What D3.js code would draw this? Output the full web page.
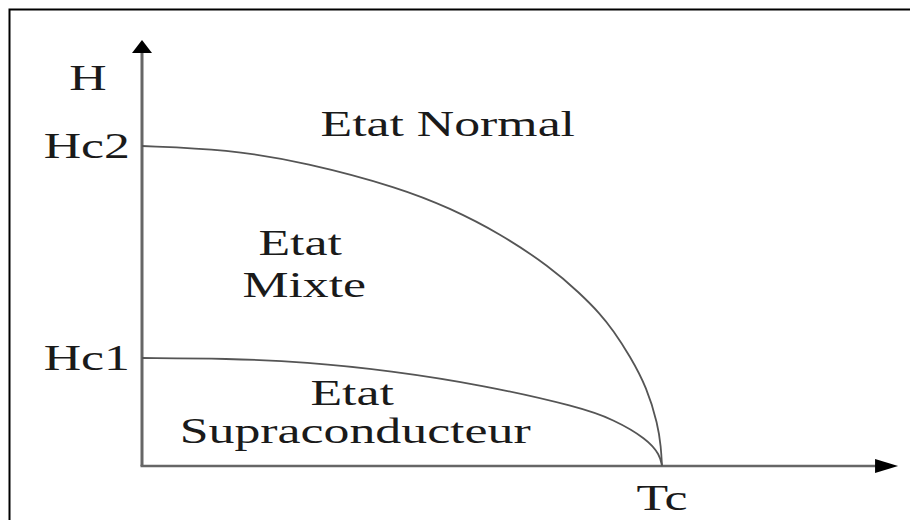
<!DOCTYPE html>
<html>
<head>
<meta charset="utf-8">
<script src="https://cdn.jsdelivr.net/npm/d3@7"></script>
<style>
  body { margin: 0; background: #fff; }
  text { font-family: "Liberation Serif", "Times New Roman", "DejaVu Serif", serif; fill: #1a1a1a; }
</style>
</head>
<body>
<svg id="chart"></svg>
<script>
/////////////////////////////////
// DATA (T in units of Tc, H in units of Hc2)
//////////////////////////////////

var hc2Curve = [
  [0, 1.0], [0.163, 0.99], [0.317, 0.948], [0.496, 0.869], [0.592, 0.806],
  [0.688, 0.727], [0.785, 0.622], [0.842, 0.54], [0.881, 0.476], [0.906, 0.424],
  [0.938, 0.345], [0.971, 0.245], [0.992, 0.13], [0.998, 0.06], [1.0, 0]
];

var hc1Curve = [
  [0, 0.3375], [0.163, 0.336], [0.317, 0.325], [0.477, 0.298], [0.656, 0.253],
  [0.842, 0.184], [0.906, 0.146], [0.971, 0.085], [0.996, 0.035], [1.0, 0]
];

var hTicks = [{ label: "Hc2", value: 1.0 }, { label: "Hc1", value: 0.3375 }];
var tTicks = [{ label: "Tc", value: 1.0 }];
var axisEnds = { t: 1.454, h: 1.331 };

var regionLabels = [
  { text: "H", t: -0.104, h: 1.175 },
  { text: "Etat Normal", t: 0.588, h: 1.031 },
  { text: "Etat", t: 0.304, h: 0.659 },
  { text: "Mixte", t: 0.312, h: 0.528 },
  { text: "Etat", t: 0.404, h: 0.191 },
  { text: "Supraconducteur", t: 0.41, h: 0.072 }
];

/////////////////////////////////
// SETUP
//////////////////////////////////

var width = 910, height = 520;
var stretch = 1.48;   // the original picture is squeezed vertically
var fontSize = 35;

var svg = d3.select("#chart")
  .attr("width", width)
  .attr("height", height);

var x = d3.scaleLinear().domain([0, 1]).range([142, 662]);
var y = d3.scaleLinear().domain([0, 1]).range([466, 146]);

// frame (only top and left edges are in view)
svg.append("rect")
  .attr("x", 9.5).attr("y", 9.5)
  .attr("width", width + 20).attr("height", height + 20)
  .attr("fill", "none")
  .attr("stroke", "#000")
  .attr("stroke-width", 2);

/////////////////////////////////
// AXES
//////////////////////////////////

var axisColor = "#666";

// H axis
svg.append("line")
  .attr("x1", x(0)).attr("y1", y(0))
  .attr("x2", x(0)).attr("y2", y(axisEnds.h) + 12)
  .attr("stroke", axisColor)
  .attr("stroke-width", 3);

svg.append("path")
  .attr("d", d3.line()([
    [x(0), y(axisEnds.h)],
    [x(0) - 10, y(axisEnds.h) + 13],
    [x(0) + 10, y(axisEnds.h) + 13]
  ]) + "Z")
  .attr("fill", "#000");

// T axis
svg.append("line")
  .attr("x1", x(0) - 1.5).attr("y1", y(0))
  .attr("x2", x(axisEnds.t) - 20).attr("y2", y(0))
  .attr("stroke", axisColor)
  .attr("stroke-width", 2.5);

svg.append("path")
  .attr("d", d3.line()([
    [x(axisEnds.t), y(0)],
    [x(axisEnds.t) - 23, y(0) - 7],
    [x(axisEnds.t) - 23, y(0) + 7]
  ]) + "Z")
  .attr("fill", "#000");

/////////////////////////////////
// CURVES
//////////////////////////////////

var line = d3.line()
  .x(function(d) { return x(d[0]); })
  .y(function(d) { return y(d[1]); })
  .curve(d3.curveBasis);

svg.selectAll(".curve")
  .data([hc2Curve, hc1Curve])
  .enter().append("path")
  .attr("class", "curve")
  .attr("d", line)
  .attr("fill", "none")
  .attr("stroke", "#555")
  .attr("stroke-width", 1.8);

/////////////////////////////////
// LABELS
//////////////////////////////////

function stretchedText(sel, anchor) {
  sel.attr("x", 0).attr("y", 0)
    .attr("text-anchor", anchor)
    .attr("font-family", "Liberation Serif, Times New Roman, serif")
    .attr("font-size", fontSize);
}

svg.selectAll(".hTick")
  .data(hTicks)
  .enter().append("text")
  .attr("class", "hTick")
  .attr("transform", function(d) {
    return "translate(" + (x(0) - 12) + "," + (y(d.value) + 12) + ") scale(" + stretch + ",1)";
  })
  .call(stretchedText, "end")
  .text(function(d) { return d.label; });

svg.selectAll(".tTick")
  .data(tTicks)
  .enter().append("text")
  .attr("class", "tTick")
  .attr("transform", function(d) {
    return "translate(" + x(d.value) + "," + (y(0) + 44) + ") scale(" + stretch + ",1)";
  })
  .call(stretchedText, "middle")
  .text(function(d) { return d.label; });

svg.selectAll(".region")
  .data(regionLabels)
  .enter().append("text")
  .attr("class", "region")
  .attr("transform", function(d) {
    return "translate(" + x(d.t) + "," + y(d.h) + ") scale(" + stretch + ",1)";
  })
  .call(stretchedText, "middle")
  .text(function(d) { return d.text; });
</script>
</body>
</html>
